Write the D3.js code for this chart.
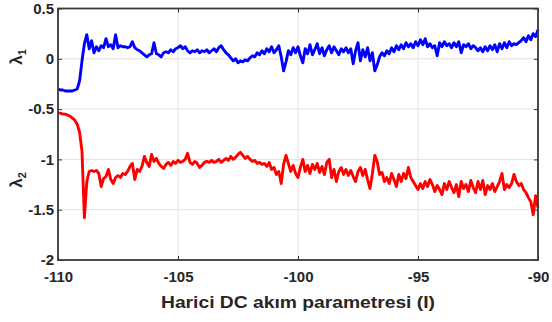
<!DOCTYPE html>
<html lang="tr">
<head>
<meta charset="utf-8" />
<title>Lambda 1 / Lambda 2</title>
<script src="https://cdn.jsdelivr.net/npm/d3@7/dist/d3.min.js"></script>
<style>
  body{margin:0;background:#fff;font-family:"Liberation Sans",Arial,Helvetica,sans-serif}
  svg{display:block}
  .grid line{stroke:#e2e2e2;stroke-width:1}
  .ax path{display:none}
  .ax line{stroke:#333;stroke-width:1}
  .ax text{font:bold 15px "Liberation Sans",Arial,sans-serif;fill:#262626}
  .frame{fill:none;stroke:#3a3a3a;stroke-width:1.8}
  .lam1{fill:none;stroke:#0000ff;stroke-width:2.9;stroke-linejoin:round}
  .lam2{fill:none;stroke:#ff0000;stroke-width:2.9;stroke-linejoin:round}
  .lbl{font:bold 17px "Liberation Sans",Arial,sans-serif;fill:#262626}
</style>
</head>
<body>
<div id="chart"></div>
<script>
// x: Harici DC akım parametresi (I), sampled every 0.1 from -110 to -90
const xStart=-110, xStep=0.1;

const xTicks=[-110,-105,-100,-95,-90];
const xTickLabels=['-110','-105','-100','-95','-90'];
const yTicks=[0.5,0,-0.5,-1,-1.5,-2];
const yTickLabels=['0.5','0','-0.5','-1','-1.5','-2'];

// lambda 1 (blue)
const lambda1=[
-0.30,-0.31,-0.31,-0.32,-0.32,-0.32,-0.32,-0.31,-0.30,-0.22,
-0.02,0.15,0.24,0.10,0.18,0.06,0.12,0.08,0.13,0.11,
0.20,0.12,0.14,0.10,0.24,0.11,0.13,0.12,0.12,0.11,
0.12,0.17,0.11,0.09,0.08,0.06,0.04,0.02,0.04,0.05,
0.16,0.05,0.04,0.02,0.06,0.07,0.06,0.09,0.07,0.10,
0.11,0.13,0.10,0.12,0.08,0.06,0.08,0.07,0.09,0.06,
0.08,0.07,0.09,0.06,0.08,0.10,0.07,0.11,0.13,0.09,
0.06,0.04,0.01,-0.02,0.00,-0.04,-0.02,-0.03,-0.01,-0.02,
0.01,0.03,0.02,0.06,0.04,0.08,0.05,0.10,0.07,0.12,
0.06,0.09,0.13,0.02,-0.12,-0.03,0.08,0.04,0.11,0.06,
0.12,0.03,-0.04,0.10,0.05,0.14,0.04,0.09,0.15,0.05,
0.11,0.03,0.09,0.13,0.06,0.12,0.08,0.04,0.10,0.07,
0.11,0.06,0.10,-0.05,0.08,0.16,-0.02,0.09,0.02,0.11,
-0.02,0.06,-0.12,-0.06,0.02,0.06,0.03,0.08,0.05,0.11,
0.07,0.13,0.09,0.14,0.10,0.16,0.12,0.15,0.11,0.17,
0.13,0.19,0.14,0.20,0.12,0.15,0.11,0.13,0.03,0.16,
0.12,0.17,0.13,0.15,0.11,0.16,0.12,0.17,0.06,0.14,
0.12,0.15,0.10,0.13,0.11,0.08,0.11,0.07,0.12,0.08,
0.13,0.09,0.14,0.07,0.15,0.10,0.16,0.11,0.17,0.13,
0.15,0.14,0.16,0.18,0.21,0.17,0.23,0.19,0.25,0.22,
0.29];

// lambda 2 (red)
const lambda2=[
-0.54,-0.54,-0.55,-0.55,-0.56,-0.57,-0.59,-0.61,-0.65,-0.73,
-0.92,-1.58,-1.22,-1.12,-1.11,-1.12,-1.11,-1.14,-1.27,-1.19,
-1.17,-1.10,-1.20,-1.24,-1.18,-1.16,-1.18,-1.14,-1.15,-1.12,
-1.07,-1.04,-1.20,-1.10,-1.12,-1.07,-0.97,-1.03,-1.07,-0.95,
-1.02,-0.99,-1.04,-1.07,-1.09,-1.05,-1.03,-1.06,-1.02,-1.04,
-1.01,-1.03,-1.02,-1.00,-0.94,-1.03,-1.05,-1.02,-1.04,-1.08,
-1.06,-1.03,-1.02,-1.03,-1.01,-1.03,-1.02,-1.00,-1.03,-1.01,
-0.99,-1.01,-0.97,-1.00,-0.98,-0.95,-0.93,-0.96,-0.99,-0.97,
-1.00,-1.02,-1.01,-1.04,-1.03,-1.05,-1.04,-1.07,-1.03,-1.10,
-1.08,-1.15,-1.12,-1.24,-1.05,-0.96,-1.04,-1.12,-1.06,-1.14,
-1.18,-1.08,-1.00,-1.12,-1.06,-1.14,-1.05,-1.10,-1.04,-1.13,
-1.07,-1.15,-1.03,-1.00,-1.18,-1.10,-1.22,-1.12,-1.08,-1.15,
-1.10,-1.16,-1.11,-1.17,-1.22,-1.12,-1.08,-1.16,-1.10,-1.20,
-1.29,-1.14,-0.96,-1.02,-1.15,-1.13,-1.22,-1.18,-1.24,-1.14,
-1.20,-1.27,-1.15,-1.22,-1.14,-1.19,-1.08,-1.18,-1.22,-1.26,
-1.30,-1.24,-1.29,-1.22,-1.27,-1.20,-1.25,-1.32,-1.26,-1.30,
-1.35,-1.24,-1.30,-1.22,-1.28,-1.33,-1.25,-1.37,-1.22,-1.29,
-1.25,-1.32,-1.21,-1.28,-1.33,-1.22,-1.30,-1.21,-1.35,-1.26,
-1.30,-1.24,-1.32,-1.27,-1.22,-1.14,-1.30,-1.25,-1.28,-1.24,
-1.15,-1.22,-1.26,-1.24,-1.30,-1.33,-1.38,-1.42,-1.55,-1.36,
-1.48];

const W=552,H=322;
const L=58,R=538,T=8.5,B=260;

const x=d3.scaleLinear().domain([-110,-90]).range([L,R]);
const y=d3.scaleLinear().domain([-2,0.5]).range([B,T]);

const svg=d3.select('#chart').append('svg').attr('width',W).attr('height',H);

/* ---- grid ---- */
const grid=svg.append('g').attr('class','grid');
grid.selectAll('line.gx').data(xTicks).join('line').attr('class','gx')
  .attr('x1',d=>x(d)).attr('x2',d=>x(d)).attr('y1',T).attr('y2',B);
grid.selectAll('line.gy').data(yTicks).join('line').attr('class','gy')
  .attr('x1',L).attr('x2',R).attr('y1',d=>y(d)).attr('y2',d=>y(d));

/* ---- axes (ticks point inward) ---- */
svg.append('g').attr('class','ax').attr('transform',`translate(0,${B})`)
  .call(d3.axisBottom(x).tickValues(xTicks).tickSize(-4).tickPadding(11)
    .tickFormat((d,i)=>xTickLabels[i]));
svg.append('g').attr('class','ax').attr('transform',`translate(${L},0)`)
  .call(d3.axisLeft(y).tickValues(yTicks).tickSize(-4).tickPadding(4)
    .tickFormat((d,i)=>yTickLabels[i]));
svg.append('g').attr('class','ax').attr('transform',`translate(0,${T})`)
  .call(d3.axisTop(x).tickValues(xTicks).tickSize(-4).tickFormat(''));
svg.append('g').attr('class','ax').attr('transform',`translate(${R},0)`)
  .call(d3.axisRight(y).tickValues(yTicks).tickSize(-4).tickFormat(''));

/* ---- lines ---- */
const line=d3.line().x((d,i)=>x(xStart+i*xStep)).y(d=>y(d));
svg.append('path').attr('class','lam1').attr('d',line(lambda1));
svg.append('path').attr('class','lam2').attr('d',line(lambda2));

svg.append('rect').attr('class','frame').attr('x',L).attr('y',T).attr('width',R-L).attr('height',B-T);

/* ---- labels ---- */
svg.append('text').attr('class','lbl').attr('x',(L+R)/2).attr('y',308)
  .attr('text-anchor','middle').attr('textLength',274).attr('lengthAdjust','spacingAndGlyphs')
  .text('Harici DC akım parametresi (I)');

function lam(cy,sub){
  const t=svg.append('text').attr('class','lbl')
    .attr('transform',`translate(22,${cy}) rotate(-90)`).attr('text-anchor','middle');
  t.append('tspan').text('λ');
  t.append('tspan').attr('font-size','11px').attr('dy',4).text(sub);
}
lam(57,'1');
lam(180,'2');
</script>
</body>
</html>
